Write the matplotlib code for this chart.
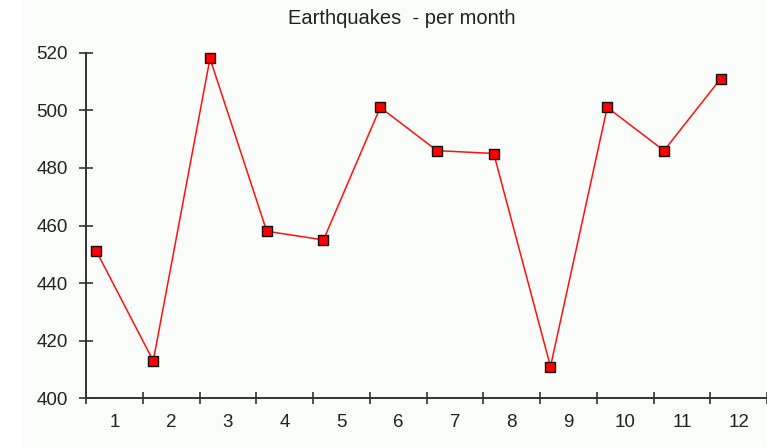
import matplotlib
matplotlib.use("Agg")
import matplotlib.pyplot as plt
from matplotlib.ticker import FixedLocator, NullFormatter
import numpy as np

months = [1, 2, 3, 4, 5, 6, 7, 8, 9, 10, 11, 12]
month_labels = ["1", "2", "3", "4", "5", "6", "7", "8", "9", "10", "11", "12"]
quakes = [451, 413, 518, 458, 455, 501, 486, 485, 411, 501, 486, 511]
y_ticks = [400, 420, 440, 460, 480, 500, 520]

W, H, DPI = 767, 447, 100
plt.rcParams["font.family"] = ["Liberation Sans", "DejaVu Sans"]
fig = plt.figure(figsize=(W / DPI, H / DPI), dpi=DPI, facecolor="white")

# light panel behind the chart
bg = fig.add_axes([22 / W, 0, 1 - 22 / W, 1], zorder=-1)
bg.set_facecolor("#FAFCF9")
bg.set_axis_off()
bg.add_patch(plt.Rectangle((0, 0), 1, 1, transform=bg.transAxes,
                           facecolor="#FAFCF9", edgecolor="none"))

ax = fig.add_axes([86 / W, (H - 398.3) / H, (767 - 86) / W, (398.3 - 52.7) / H])
ax.set_facecolor("none")

# points sit near the left of each category slot
offset = -0.315
x = np.array(months) + offset
ax.plot(x, quakes, color="#FF1010", lw=1.1, marker="s", markersize=6.8,
        markerfacecolor="#FF0000", markeredgecolor="#111111", markeredgewidth=1.0,
        clip_on=False, zorder=3)

ax.set_xlim(0.5, 12.5)
ax.set_ylim(400, 520)

axis_color = "#333333"
for s in ["top", "right"]:
    ax.spines[s].set_visible(False)
for s in ["left", "bottom"]:
    ax.spines[s].set_color(axis_color)
    ax.spines[s].set_linewidth(1.4)

ax.set_yticks(y_ticks)
ax.set_yticklabels([str(v) for v in y_ticks])
ax.tick_params(axis="y", direction="inout", length=10, width=1.2, color=axis_color,
               labelsize=13.5, labelcolor="#222222", pad=8)

# category boundaries carry the ticks, labels go in the middle of each slot
ax.xaxis.set_major_locator(FixedLocator(np.arange(0.5, 12.6, 1.0)))
ax.xaxis.set_major_formatter(NullFormatter())
ax.xaxis.set_minor_locator(FixedLocator(months))
ax.set_xticklabels(month_labels, minor=True)
ax.tick_params(axis="x", which="major", direction="inout", length=9, width=1.2, color=axis_color)
ax.tick_params(axis="x", which="minor", length=0, labelsize=13.5, labelcolor="#222222", pad=11)

fig.text(402 / W, 1 - 19 / H, "Earthquakes  - per month", ha="center", va="center",
         fontsize=14.5, color="#222222")

fig.savefig("out.png", dpi=DPI, facecolor="white")
